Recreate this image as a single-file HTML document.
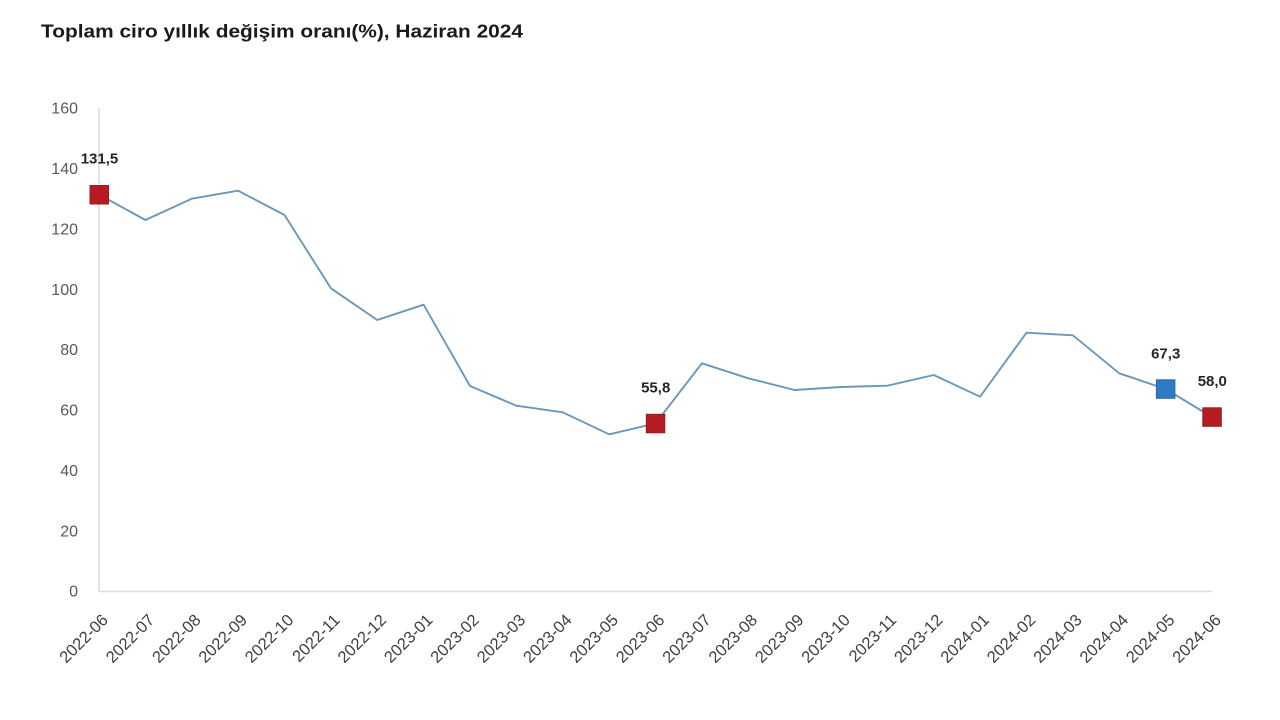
<!DOCTYPE html>
<html>
<head>
<meta charset="utf-8">
<style>
  html, body { margin: 0; padding: 0; background: #ffffff; }
  svg { display: block; }
  text { font-family: "Liberation Sans", Arial, sans-serif; }
</style>
</head>
<body>
<svg width="1280" height="720" viewBox="0 0 1280 720" xmlns="http://www.w3.org/2000/svg">
  <rect width="1280" height="720" fill="#ffffff"/>
  <!-- Title -->
  <text x="41" y="37.5" font-size="18" font-weight="bold" fill="#1a1a1a" textLength="482" lengthAdjust="spacingAndGlyphs">Toplam ciro yıllık değişim oranı(%), Haziran 2024</text>

  <!-- Axes -->
  <line x1="99" y1="108" x2="99" y2="591.5" stroke="#dcdcdc" stroke-width="1.5"/>
  <line x1="99" y1="591.5" x2="1212" y2="591.5" stroke="#dcdcdc" stroke-width="1.5"/>

  <!-- Y tick labels -->
  <g font-size="16" fill="#595959" text-anchor="end">
    <text x="78" y="596.7">0</text>
    <text x="78" y="536.3">20</text>
    <text x="78" y="476">40</text>
    <text x="78" y="415.6">60</text>
    <text x="78" y="355.2">80</text>
    <text x="78" y="294.8">100</text>
    <text x="78" y="234.5">120</text>
    <text x="78" y="174.1">140</text>
    <text x="78" y="113.7">160</text>
  </g>

  <!-- X tick labels -->
  <g font-size="16.5" fill="#404040" text-anchor="end">
    <text transform="translate(109,621) rotate(-45)">2022-06</text>
    <text transform="translate(155.4,621) rotate(-45)">2022-07</text>
    <text transform="translate(201.75,621) rotate(-45)">2022-08</text>
    <text transform="translate(248.1,621) rotate(-45)">2022-09</text>
    <text transform="translate(294.5,621) rotate(-45)">2022-10</text>
    <text transform="translate(340.9,621) rotate(-45)">2022-11</text>
    <text transform="translate(387.25,621) rotate(-45)">2022-12</text>
    <text transform="translate(433.6,621) rotate(-45)">2023-01</text>
    <text transform="translate(480,621) rotate(-45)">2023-02</text>
    <text transform="translate(526.4,621) rotate(-45)">2023-03</text>
    <text transform="translate(572.75,621) rotate(-45)">2023-04</text>
    <text transform="translate(619.1,621) rotate(-45)">2023-05</text>
    <text transform="translate(665.5,621) rotate(-45)">2023-06</text>
    <text transform="translate(711.9,621) rotate(-45)">2023-07</text>
    <text transform="translate(758.25,621) rotate(-45)">2023-08</text>
    <text transform="translate(804.6,621) rotate(-45)">2023-09</text>
    <text transform="translate(851,621) rotate(-45)">2023-10</text>
    <text transform="translate(897.4,621) rotate(-45)">2023-11</text>
    <text transform="translate(943.75,621) rotate(-45)">2023-12</text>
    <text transform="translate(990.1,621) rotate(-45)">2024-01</text>
    <text transform="translate(1036.5,621) rotate(-45)">2024-02</text>
    <text transform="translate(1082.9,621) rotate(-45)">2024-03</text>
    <text transform="translate(1129.25,621) rotate(-45)">2024-04</text>
    <text transform="translate(1175.6,621) rotate(-45)">2024-05</text>
    <text transform="translate(1222,621) rotate(-45)">2024-06</text>
  </g>

  <!-- Series line -->
  <polyline fill="none" stroke="#6b97bb" stroke-width="1.9" stroke-linejoin="round"
    points="99,194.5 145.4,220 191.75,198.7 238.1,190.7 284.5,215 330.9,288.3 377.25,320 423.6,304.7 470,386 516.4,405.7 562.75,412.3 609.1,434.3 655.5,423.5 701.9,363.3 748.25,378.3 794.6,390 841,387 887.4,385.7 933.75,375 980.1,396.7 1026.5,332.7 1072.9,335.3 1119.25,373.3 1165.6,389 1212,417"/>

  <!-- Markers -->
  <rect x="90" y="185.5" width="18.5" height="18.5" fill="#b41c22" stroke="#a01a1e" stroke-width="1"/>
  <rect x="646.3" y="414.3" width="18.5" height="18.5" fill="#b41c22" stroke="#a01a1e" stroke-width="1"/>
  <rect x="1156.4" y="379.8" width="18.5" height="18.5" fill="#2f7bbf" stroke="#2a6aa6" stroke-width="1"/>
  <rect x="1202.8" y="407.8" width="18.5" height="18.5" fill="#b41c22" stroke="#a01a1e" stroke-width="1"/>

  <!-- Data labels -->
  <g font-size="15" font-weight="bold" fill="#262626" text-anchor="middle">
    <text x="99.5" y="163.5">131,5</text>
    <text x="655.7" y="392.5">55,8</text>
    <text x="1165.7" y="358.3">67,3</text>
    <text x="1212.3" y="386">58,0</text>
  </g>
</svg>
</body>
</html>
